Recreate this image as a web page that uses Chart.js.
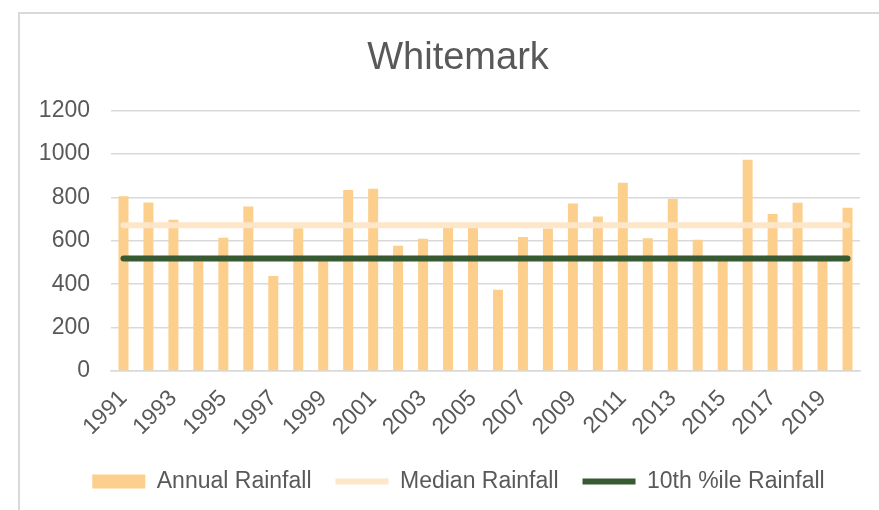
<!DOCTYPE html>
<html lang="en">
<head>
    <meta charset="UTF-8">
    <title>Whitemark</title>
    <script src="https://cdn.jsdelivr.net/npm/chart.js"></script>
    <style>
        body {
            margin: 0;
            background: #fff;
            overflow: hidden;
        }
        .frame {
            position: absolute;
            left: 18px;
            top: 12px;
            width: 900px;
            height: 520px;
            border-left: 2px solid #d9d9d9;
            border-top: 2px solid #d9d9d9;
        }
        .chart-box {
            position: absolute;
            left: 0;
            top: 0;
            width: 879px;
            height: 510px;
        }
    </style>
</head>
<body>
    <div class="frame"></div>
    <div class="chart-box">
        <canvas id="rainChart"></canvas>
    </div>
    <script>
        const years = ['1991', '1992', '1993', '1994', '1995', '1996', '1997', '1998', '1999', '2000',
                       '2001', '2002', '2003', '2004', '2005', '2006', '2007', '2008', '2009', '2010',
                       '2011', '2012', '2013', '2014', '2015', '2016', '2017', '2018', '2019', '2020'];
        const annualRainfall = [805, 777, 697, 505, 614, 758, 438, 658, 508, 834,
                                840, 577, 609, 660, 660, 374, 618, 657, 772, 712,
                                868, 612, 794, 605, 508, 974, 723, 775, 508, 752];
        const medianRainfall = [672, 672, 672, 672, 672, 672, 672, 672, 672, 672,
                                672, 672, 672, 672, 672, 672, 672, 672, 672, 672,
                                672, 672, 672, 672, 672, 672, 672, 672, 672, 672];
        const tenthRainfall = [518, 518, 518, 518, 518, 518, 518, 518, 518, 518,
                               518, 518, 518, 518, 518, 518, 518, 518, 518, 518,
                               518, 518, 518, 518, 518, 518, 518, 518, 518, 518];
        const yTicks = [0, 200, 400, 600, 800, 1000, 1200];

        const textColor = '#595959';
        const fontFamily = "'Liberation Sans', Arial, sans-serif";

        // Excel centres the title and legend a bit right of the plot area
        const shiftHeader = {
            id: 'shiftHeader',
            afterLayout(chart) {
                if (chart.titleBlock) chart.titleBlock.left += 37;
                if (chart.legend) chart.legend.left += 38;
            }
        };

        const ctx = document.getElementById('rainChart').getContext('2d');
        new Chart(ctx, {
            type: 'bar',
            data: {
                labels: years,
                datasets: [{
                    type: 'bar',
                    label: 'Annual Rainfall',
                    data: annualRainfall,
                    backgroundColor: '#fccf8c',
                    borderWidth: 0,
                    barPercentage: 0.4,
                    categoryPercentage: 1.0,
                    pointStyle: 'rect',
                    order: 3
                }, {
                    type: 'line',
                    label: 'Median Rainfall',
                    data: medianRainfall,
                    borderColor: '#fee6c9',
                    backgroundColor: '#fee6c9',
                    borderWidth: 6,
                    borderCapStyle: 'round',
                    pointRadius: 0,
                    pointStyle: 'line',
                    order: 2
                }, {
                    type: 'line',
                    label: '10th %ile Rainfall',
                    data: tenthRainfall,
                    borderColor: '#375a32',
                    backgroundColor: '#375a32',
                    borderWidth: 6,
                    borderCapStyle: 'round',
                    pointRadius: 0,
                    pointStyle: 'line',
                    order: 1
                }]
            },
            options: {
                responsive: true,
                maintainAspectRatio: false,
                animation: false,
                layout: {
                    padding: { left: 19, right: 19, top: 0, bottom: 7 }
                },
                scales: {
                    x: {
                        grid: { display: false },
                        border: { display: true, color: '#d9d9d9', width: 1.5 },
                        ticks: {
                            autoSkip: false,
                            minRotation: 45,
                            maxRotation: 45,
                            padding: 6,
                            color: textColor,
                            font: { family: fontFamily, size: 23 },
                            callback: (value, index) => index % 2 === 0 ? years[index] : ''
                        },
                        afterFit: (scale) => { scale.height = 75; }
                    },
                    y: {
                        min: 0,
                        max: 1200,
                        afterBuildTicks: (scale) => {
                            scale.ticks = yTicks.map(v => ({ value: v }));
                        },
                        grid: { color: '#d9d9d9', lineWidth: 1.5, drawTicks: false },
                        border: { display: false },
                        ticks: {
                            padding: 21,
                            color: textColor,
                            font: { family: fontFamily, size: 23 },
                            callback: (value) => String(value)
                        },
                        afterFit: (scale) => { scale.width = 92; }
                    }
                },
                plugins: {
                    title: {
                        display: true,
                        text: 'Whitemark',
                        color: textColor,
                        font: { family: fontFamily, size: 38, weight: 'normal' },
                        padding: { top: 36, bottom: 29 }
                    },
                    legend: {
                        position: 'bottom',
                        labels: {
                            usePointStyle: true,
                            pointStyleWidth: 53,
                            boxHeight: 14,
                            padding: 24,
                            color: textColor,
                            font: { family: fontFamily, size: 23 },
                            sort: (a, b) => a.datasetIndex - b.datasetIndex
                        }
                    },
                    tooltip: { enabled: false }
                }
            },
            plugins: [shiftHeader]
        });
    </script>
</body>
</html>
